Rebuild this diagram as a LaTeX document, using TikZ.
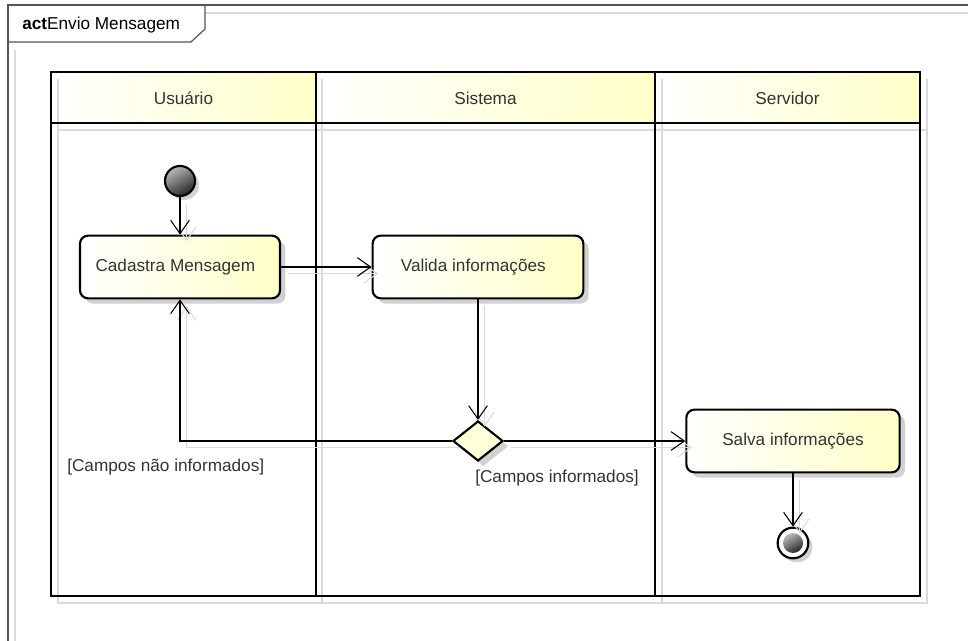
\documentclass[tikz,border=0pt]{standalone}
\usepackage{fontspec}
\setmainfont{Liberation Sans}
\usetikzlibrary{arrows.meta,shapes.geometric,shadows}
\definecolor{ink}{HTML}{333333}
\definecolor{paleyellow}{HTML}{FFFFC8}
\definecolor{ghostgray}{HTML}{DADADA}
\definecolor{framegray}{HTML}{555555}

% all connectors of the activity, drawn with the style given as argument
\newcommand\drawflows[1]{%
  \draw[#1] (init) -- (cad);
  \draw[#1] (cad) -- (val);
  \draw[#1] (val) -- (dec);
  \draw[#1] (dec.west) -| (cad.south);
  \draw[#1] (dec.east) -- (sal.west);
  \draw[#1] (sal) -- (fin);
}

\begin{document}
\begin{tikzpicture}[x=0.75pt,y=-0.75pt,
  font=\fontsize{12.9pt}{15pt}\selectfont,
  lane/.style={line width=1.7pt, draw=black},
  laneshadow/.style={line width=1.7pt, draw=ghostgray},
  header/.style={left color=white, right color=paleyellow, draw=none},
  action/.style={draw=black, line width=1.6pt, rounded corners=6pt,
    minimum width=150pt, minimum height=47pt, inner sep=0pt, text=ink,
    left color=white, right color=paleyellow,
    drop shadow={shadow xshift=4pt, shadow yshift=-4pt, fill=black!18, opacity=1}},
  decision/.style={diamond, draw=black, line width=1.6pt, fill=paleyellow!70,
    minimum width=37.5pt, minimum height=30pt, inner sep=0pt,
    drop shadow={shadow xshift=4pt, shadow yshift=-4pt, fill=black!18, opacity=1}},
  startnode/.style={circle, draw=black, line width=1.6pt, minimum size=22.5pt, inner sep=0pt,
    shading=axis, top color=gray!55, bottom color=black!85, shading angle=30,
    drop shadow={shadow xshift=3pt, shadow yshift=-3pt, fill=black!18, opacity=1}},
  endnode/.style={circle, draw=black, line width=1.6pt, minimum size=23pt, inner sep=0pt, fill=white,
    drop shadow={shadow xshift=3pt, shadow yshift=-3pt, fill=black!18, opacity=1}},
  endcore/.style={circle, minimum size=15pt, inner sep=0pt,
    shading=axis, top color=gray!55, bottom color=black!85, shading angle=30},
  flow/.style={draw=black, line width=0.8pt, -{Straight Barb[length=10pt,width=14pt,line width=0.8pt]}},
  ghostflow/.style={draw=ghostgray, line width=0.8pt, -{Straight Barb[length=10pt,width=14pt,line width=0.8pt]}},
  guard/.style={anchor=west, text=ink, inner sep=0pt}
]
\useasboundingbox (0,0) rectangle (968,641);

% diagram frame with its name tab
\begin{scope}
  \clip (0,0) rectangle (968,641);
  \draw[ghostgray, line width=0.8pt] (15,50) -- (15,660);
  \draw[ghostgray, line width=0.8pt] (205,13) -- (980,13);
  \draw[framegray, line width=0.9pt] (8,660) -- (8,5) -- (980,5);
  \draw[framegray, line width=0.9pt] (8,42) -- (191,42) -- (205,29) -- (205,5);
\end{scope}
\node[anchor=west, inner sep=0pt, text=black] (title) at (22,25) {\textbf{act}Envio Mensagem};

% swimlane headers
\fill[header] (51,72) rectangle (316,123);
\fill[header] (316,72) rectangle (655,123);
\fill[header] (655,72) rectangle (920,123);

% swimlane shadow lines
\draw[laneshadow] (58,79) -- (58,603) -- (927,603) -- (927,79);
\draw[laneshadow] (322,79) -- (322,603);
\draw[laneshadow] (662,79) -- (662,603);
\draw[laneshadow] (58,130) -- (927,130);

% swimlane grid
\draw[lane] (51,72) rectangle (920,596);
\draw[lane] (51,123) -- (920,123);
\draw[lane] (316,72) -- (316,596);
\draw[lane] (655,72) -- (655,596);

\node[text=ink] (lane1) at (183.5,98) {Usuário};
\node[text=ink] (lane2) at (485.5,98) {Sistema};
\node[text=ink] (lane3) at (787.5,98) {Servidor};

% activity nodes
\node[startnode] (init) at (180,181) {};
\node[action] (cad) at (180,267) {\hspace*{-7pt}Cadastra Mensagem};
\node[action, minimum width=158pt] (val) at (478,267) {\hspace*{-7pt}Valida informações};
\node[decision] (dec) at (478,441) {};
\node[action, minimum width=160pt] (sal) at (793,441) {Salva informações};
\node[endnode] (fin) at (793,543) {};
\node[endcore] (fincore) at (fin) {};

% connectors: faint offset copy first, then the lines themselves
\begin{scope}[transform canvas={shift={(5pt,-5pt)}}]
  \drawflows{ghostflow}
\end{scope}
\drawflows{flow}

% guards
\node[guard] (g1) at (67,467) {[Campos não informados]};
\node[guard] (g2) at (475,478) {[Campos informados]};
\end{tikzpicture}
\end{document}
